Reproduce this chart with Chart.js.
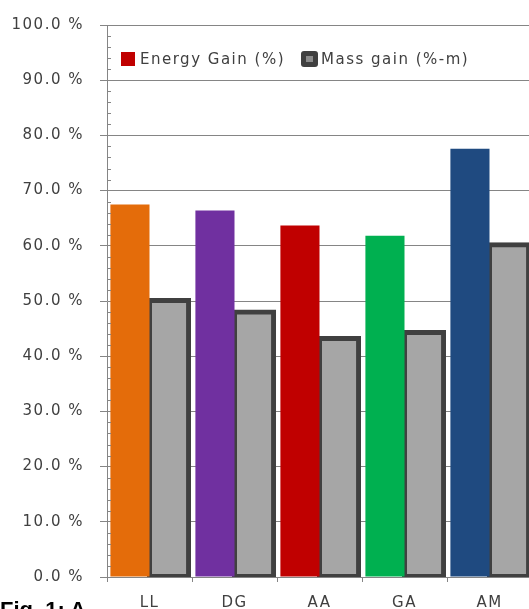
<!DOCTYPE html>
<html>
<head>
<meta charset="utf-8">
<script src="https://cdn.jsdelivr.net/npm/chart.js@4/dist/chart.umd.min.js"></script>
<style>
  html, body { margin: 0; padding: 0; width: 529px; height: 609px; overflow: hidden; background: #fff; }
  #wrap { position: absolute; left: 0; top: 0; width: 536px; height: 609px; }
  #cap { position: absolute; left: 0; top: 599px; font: bold 22px "Liberation Sans", Arial, sans-serif;
         line-height: 22px; color: #000; white-space: nowrap; }
</style>
</head>
<body>
<div id="wrap"><canvas id="chart"></canvas></div>
<div id="cap">Fig. 1: A</div>
<script>
// Categories and series values
const categories = ['LL', 'DG', 'AA', 'GA', 'AM'];
const energyGain = [67.5, 66.4, 63.7, 61.8, 77.6];
const massGain   = [50.1, 48.0, 43.2, 44.3, 60.2];
const seriesNames = ['Energy Gain (%)', 'Mass gain (%-m)'];
const energyColors = ['#e46c0a', '#7030a0', '#c00000', '#00b050', '#1f4a80'];

// Value axis range and tick spacing
const yMin = 0, yMax = 100, yStep = 10, yMinorStep = 2;

const axisGray = '#858585';
const textGray = '#404040';
const massFill = '#a6a6a6';
const massEdge = '#404040';
const tickFont = { family: 'DejaVu Sans', size: 15 };
const letterGap = '1.5px';

// Slightly wider text tracking for all canvas text
const tracking = {
  id: 'tracking',
  beforeUpdate(chart) { chart.ctx.letterSpacing = letterGap; },
  beforeDraw(chart) { chart.ctx.letterSpacing = letterGap; }
};

// Small inner minor ticks on the value axis
const minorTicks = {
  id: 'minorTicks',
  afterDraw(chart) {
    const y = chart.scales.y, ctx = chart.ctx;
    ctx.save();
    ctx.strokeStyle = axisGray;
    ctx.lineWidth = 1;
    for (let v = yMin; v <= yMax; v += yMinorStep) {
      if (v % yStep === 0) continue;
      const py = Math.round(y.getPixelForValue(v)) + 0.5;
      ctx.beginPath();
      ctx.moveTo(y.right, py);
      ctx.lineTo(y.right + 4, py);
      ctx.stroke();
    }
    ctx.restore();
  }
};

// One-row legend placed inside the plot area, top left
const insideLegend = {
  id: 'insideLegend',
  afterDraw(chart) {
    const ctx = chart.ctx, area = chart.chartArea;
    ctx.save();
    ctx.letterSpacing = letterGap;
    ctx.font = tickFont.size + 'px "' + tickFont.family + '"';
    ctx.textBaseline = 'middle';
    ctx.textAlign = 'left';
    const yc = area.top + 34;
    let x = area.left + 14;
    chart.data.datasets.forEach((ds, i) => {
      if (i === 0) {
        ctx.fillStyle = '#c00000';
        ctx.fillRect(x, yc - 7, 14, 14);
        x += 19;
      } else {
        ctx.fillStyle = massEdge;
        ctx.beginPath();
        ctx.roundRect(x, yc - 8, 17, 16, 3);
        ctx.fill();
        ctx.fillStyle = '#8c8c8c';
        ctx.fillRect(x + 5, yc - 3, 7, 6);
        x += 20;
      }
      ctx.fillStyle = textGray;
      ctx.fillText(ds.label, x, yc + 1);
      x += ctx.measureText(ds.label).width + 16;
    });
    ctx.restore();
  }
};

new Chart(document.getElementById('chart'), {
  type: 'bar',
  data: {
    labels: categories,
    datasets: [
      {
        label: seriesNames[0],
        data: energyGain,
        backgroundColor: energyColors,
        borderWidth: 0,
        inflateAmount: 0,
        barPercentage: 1.0,
        categoryPercentage: 0.92
      },
      {
        label: seriesNames[1],
        data: massGain,
        backgroundColor: massFill,
        borderColor: massEdge,
        borderWidth: 5,
        borderSkipped: false,
        inflateAmount: 2.5,
        barPercentage: 1.0,
        categoryPercentage: 0.92
      }
    ]
  },
  options: {
    responsive: true,
    maintainAspectRatio: false,
    animation: false,
    devicePixelRatio: 1,
    layout: { padding: { top: 21, left: 12, right: 4, bottom: 0 } },
    plugins: {
      tooltip: { enabled: false },
      legend: { display: false }
    },
    scales: {
      x: {
        offset: true,
        grid: { display: true, drawOnChartArea: false, drawTicks: true, tickLength: 5, offset: true, color: axisGray },
        border: { display: true, color: axisGray },
        ticks: { color: textGray, font: tickFont, padding: 12 },
        afterFit(scale) { scale.height = 32; }
      },
      y: {
        min: yMin,
        max: yMax,
        ticks: {
          stepSize: yStep,
          color: textGray,
          font: tickFont,
          padding: 16,
          callback: (v) => v.toFixed(1) + ' %'
        },
        grid: { color: axisGray, tickLength: 7 },
        border: { display: true, color: axisGray },
        afterFit(scale) { scale.width = 95; }
      }
    }
  },
  plugins: [tracking, minorTicks, insideLegend]
});
</script>
</body>
</html>
